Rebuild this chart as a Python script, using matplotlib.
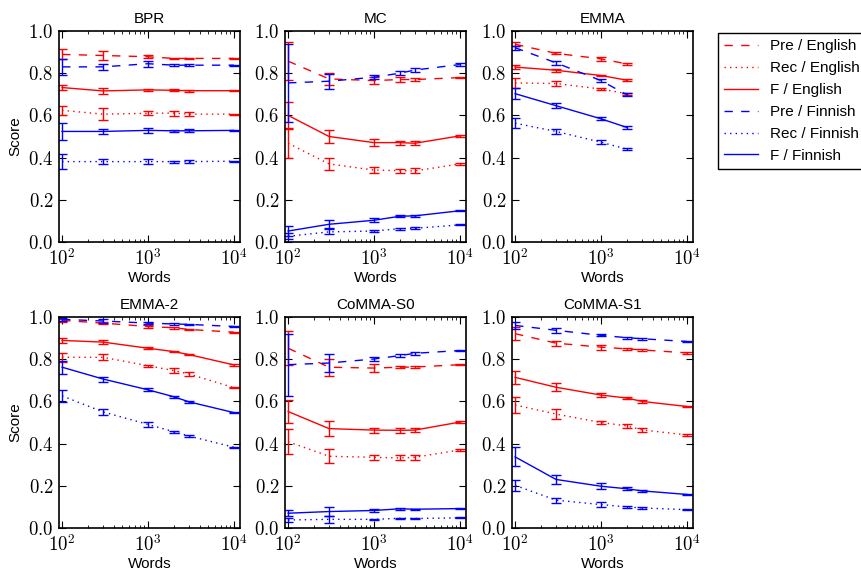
import math
import matplotlib
matplotlib.use("Agg")
import matplotlib.pyplot as plt
from matplotlib.ticker import FixedLocator, FuncFormatter, LogLocator, NullFormatter

plt.rcParams['mathtext.fontset'] = 'cm'
plt.rcParams['font.family'] = ['Liberation Sans', 'DejaVu Sans']

words = [100, 300, 1000, 2000, 3000, 10000]
words_emma = [100, 300, 1000, 2000]

series_labels = ['Pre / English', 'Rec / English', 'F / English',
                 'Pre / Finnish', 'Rec / Finnish', 'F / Finnish']
titles = ['BPR', 'MC', 'EMMA', 'EMMA-2', 'CoMMA-S0', 'CoMMA-S1']

# order: pre_en, rec_en, f_en, pre_fi, rec_fi, f_fi
bpr_vals = [
    [0.889, 0.884, 0.878, 0.870, 0.870, 0.870],
    [0.624, 0.606, 0.610, 0.611, 0.606, 0.606],
    [0.732, 0.716, 0.721, 0.719, 0.717, 0.717],
    [0.830, 0.830, 0.845, 0.838, 0.838, 0.838],
    [0.381, 0.381, 0.381, 0.381, 0.381, 0.383],
    [0.524, 0.524, 0.529, 0.527, 0.527, 0.529],
]
bpr_errs = [
    [0.024, 0.020, 0.006, 0.004, 0.004, 0.002],
    [0.020, 0.030, 0.010, 0.012, 0.008, 0.002],
    [0.012, 0.015, 0.005, 0.005, 0.005, 0.002],
    [0.037, 0.015, 0.015, 0.004, 0.006, 0.002],
    [0.035, 0.012, 0.012, 0.005, 0.006, 0.002],
    [0.040, 0.013, 0.013, 0.005, 0.008, 0.002],
]

mc_vals = [
    [0.857, 0.773, 0.765, 0.770, 0.770, 0.779],
    [0.468, 0.370, 0.341, 0.338, 0.337, 0.370],
    [0.600, 0.500, 0.471, 0.471, 0.468, 0.503],
    [0.754, 0.762, 0.781, 0.800, 0.815, 0.841],
    [0.027, 0.048, 0.052, 0.063, 0.065, 0.081],
    [0.052, 0.084, 0.103, 0.122, 0.124, 0.148],
]
mc_errs = [
    [0.090, 0.030, 0.018, 0.010, 0.008, 0.003],
    [0.070, 0.030, 0.015, 0.010, 0.012, 0.003],
    [0.065, 0.030, 0.015, 0.010, 0.010, 0.003],
    [0.186, 0.035, 0.010, 0.010, 0.008, 0.005],
    [0.015, 0.012, 0.004, 0.004, 0.004, 0.002],
    [0.025, 0.020, 0.010, 0.005, 0.005, 0.002],
]

emma_vals = [
    [0.937, 0.894, 0.868, 0.844],
    [0.754, 0.751, 0.725, 0.703],
    [0.829, 0.814, 0.789, 0.767],
    [0.921, 0.849, 0.765, 0.698],
    [0.563, 0.524, 0.473, 0.440],
    [0.703, 0.646, 0.584, 0.543],
]
emma_errs = [
    [0.010, 0.005, 0.008, 0.006],
    [0.025, 0.012, 0.004, 0.004],
    [0.010, 0.008, 0.004, 0.005],
    [0.010, 0.008, 0.008, 0.006],
    [0.025, 0.013, 0.010, 0.005],
    [0.025, 0.012, 0.008, 0.006],
]

emma2_vals = [
    [0.984, 0.971, 0.955, 0.949, 0.941, 0.928],
    [0.809, 0.809, 0.769, 0.746, 0.730, 0.665],
    [0.889, 0.881, 0.852, 0.836, 0.822, 0.773],
    [0.989, 0.981, 0.971, 0.967, 0.965, 0.955],
    [0.626, 0.550, 0.491, 0.456, 0.436, 0.383],
    [0.762, 0.706, 0.655, 0.622, 0.598, 0.547],
]
emma2_errs = [
    [0.006, 0.006, 0.006, 0.004, 0.004, 0.003],
    [0.020, 0.015, 0.004, 0.010, 0.008, 0.003],
    [0.010, 0.008, 0.004, 0.004, 0.004, 0.003],
    [0.006, 0.008, 0.005, 0.004, 0.004, 0.003],
    [0.030, 0.015, 0.010, 0.004, 0.004, 0.003],
    [0.030, 0.012, 0.008, 0.004, 0.004, 0.003],
]

s0_vals = [
    [0.852, 0.762, 0.758, 0.762, 0.763, 0.774],
    [0.409, 0.340, 0.335, 0.332, 0.335, 0.370],
    [0.552, 0.471, 0.464, 0.463, 0.464, 0.502],
    [0.774, 0.782, 0.801, 0.817, 0.828, 0.841],
    [0.038, 0.041, 0.041, 0.046, 0.045, 0.048],
    [0.070, 0.078, 0.083, 0.091, 0.089, 0.092],
]
s0_errs = [
    [0.080, 0.040, 0.020, 0.006, 0.006, 0.003],
    [0.059, 0.033, 0.012, 0.012, 0.012, 0.003],
    [0.056, 0.036, 0.012, 0.012, 0.010, 0.003],
    [0.147, 0.042, 0.008, 0.008, 0.006, 0.004],
    [0.010, 0.015, 0.004, 0.003, 0.003, 0.002],
    [0.015, 0.020, 0.008, 0.004, 0.003, 0.002],
]

s1_vals = [
    [0.921, 0.876, 0.857, 0.849, 0.844, 0.830],
    [0.583, 0.540, 0.500, 0.484, 0.465, 0.441],
    [0.714, 0.667, 0.630, 0.616, 0.600, 0.576],
    [0.960, 0.937, 0.913, 0.902, 0.897, 0.884],
    [0.202, 0.132, 0.111, 0.100, 0.095, 0.087],
    [0.337, 0.230, 0.198, 0.186, 0.176, 0.159],
]
s1_errs = [
    [0.030, 0.012, 0.012, 0.005, 0.005, 0.003],
    [0.040, 0.025, 0.008, 0.008, 0.008, 0.003],
    [0.030, 0.020, 0.008, 0.006, 0.006, 0.003],
    [0.015, 0.012, 0.005, 0.005, 0.004, 0.003],
    [0.025, 0.012, 0.010, 0.004, 0.004, 0.002],
    [0.045, 0.020, 0.015, 0.008, 0.005, 0.003],
]

panels = [
    (words, bpr_vals, bpr_errs),
    (words, mc_vals, mc_errs),
    (words_emma, emma_vals, emma_errs),
    (words, emma2_vals, emma2_errs),
    (words, s0_vals, s0_errs),
    (words, s1_vals, s1_errs),
]

colors = ['r', 'r', 'r', 'b', 'b', 'b']
styles = [(0, (6, 6)), (0, (1, 3)), '-', (0, (6, 6)), (0, (1, 3)), '-']

W, H = 861, 571
fig = plt.figure(figsize=(W / 100, H / 100), dpi=100)

lefts = [59, 285, 512]
tops = [31, 317]
aw, ah = 181, 211


def log_fmt(v, pos):
    return r'$10^{%d}$' % round(math.log10(v))


handles = []
for i, (xs, vals, errs) in enumerate(panels):
    r, c = divmod(i, 3)
    ax = fig.add_axes([lefts[c] / W, 1 - (tops[r] + ah) / H, aw / W, ah / H])
    for k in range(6):
        ax.errorbar(xs, vals[k], yerr=errs[k], fmt='none', ecolor=colors[k],
                    elinewidth=1.0, capsize=3.5, capthick=1.0)
        ln, = ax.plot(xs, vals[k], color=colors[k], linestyle=styles[k], lw=1.0)
        if i == 0:
            handles.append(ln)
    ax.set_xscale('log')
    ax.set_xlim(92, 11800)
    ax.set_ylim(0, 1)
    ax.set_title(titles[i], fontsize=11, pad=6)
    ax.set_xlabel('Words', fontsize=11, labelpad=2)
    if c == 0:
        ax.set_ylabel('Score', fontsize=11, labelpad=4)
    ax.xaxis.set_major_locator(FixedLocator([100, 1000, 10000]))
    ax.xaxis.set_major_formatter(FuncFormatter(log_fmt))
    ax.xaxis.set_minor_locator(LogLocator(base=10, subs=range(2, 10)))
    ax.xaxis.set_minor_formatter(NullFormatter())
    ax.set_yticks([0, 0.2, 0.4, 0.6, 0.8, 1.0])
    ax.yaxis.set_major_formatter(FuncFormatter(lambda v, p: r'$%.1f$' % v))
    ax.tick_params(which='both', direction='in', top=True, right=True, labelsize=13.5)
    ax.tick_params(which='major', length=5, pad=4)
    ax.tick_params(which='minor', length=2.5)
    for s in ax.spines.values():
        s.set_linewidth(1.2)

leg = fig.legend(handles, series_labels, loc='upper left',
                 bbox_to_anchor=(718 / W, 1 - 33 / H), fontsize=11,
                 fancybox=False, edgecolor='black', framealpha=1,
                 handlelength=2.2, borderpad=0.4, labelspacing=0.52,
                 borderaxespad=0)
leg.get_frame().set_linewidth(1.0)

fig.savefig('out.png', dpi=100)
